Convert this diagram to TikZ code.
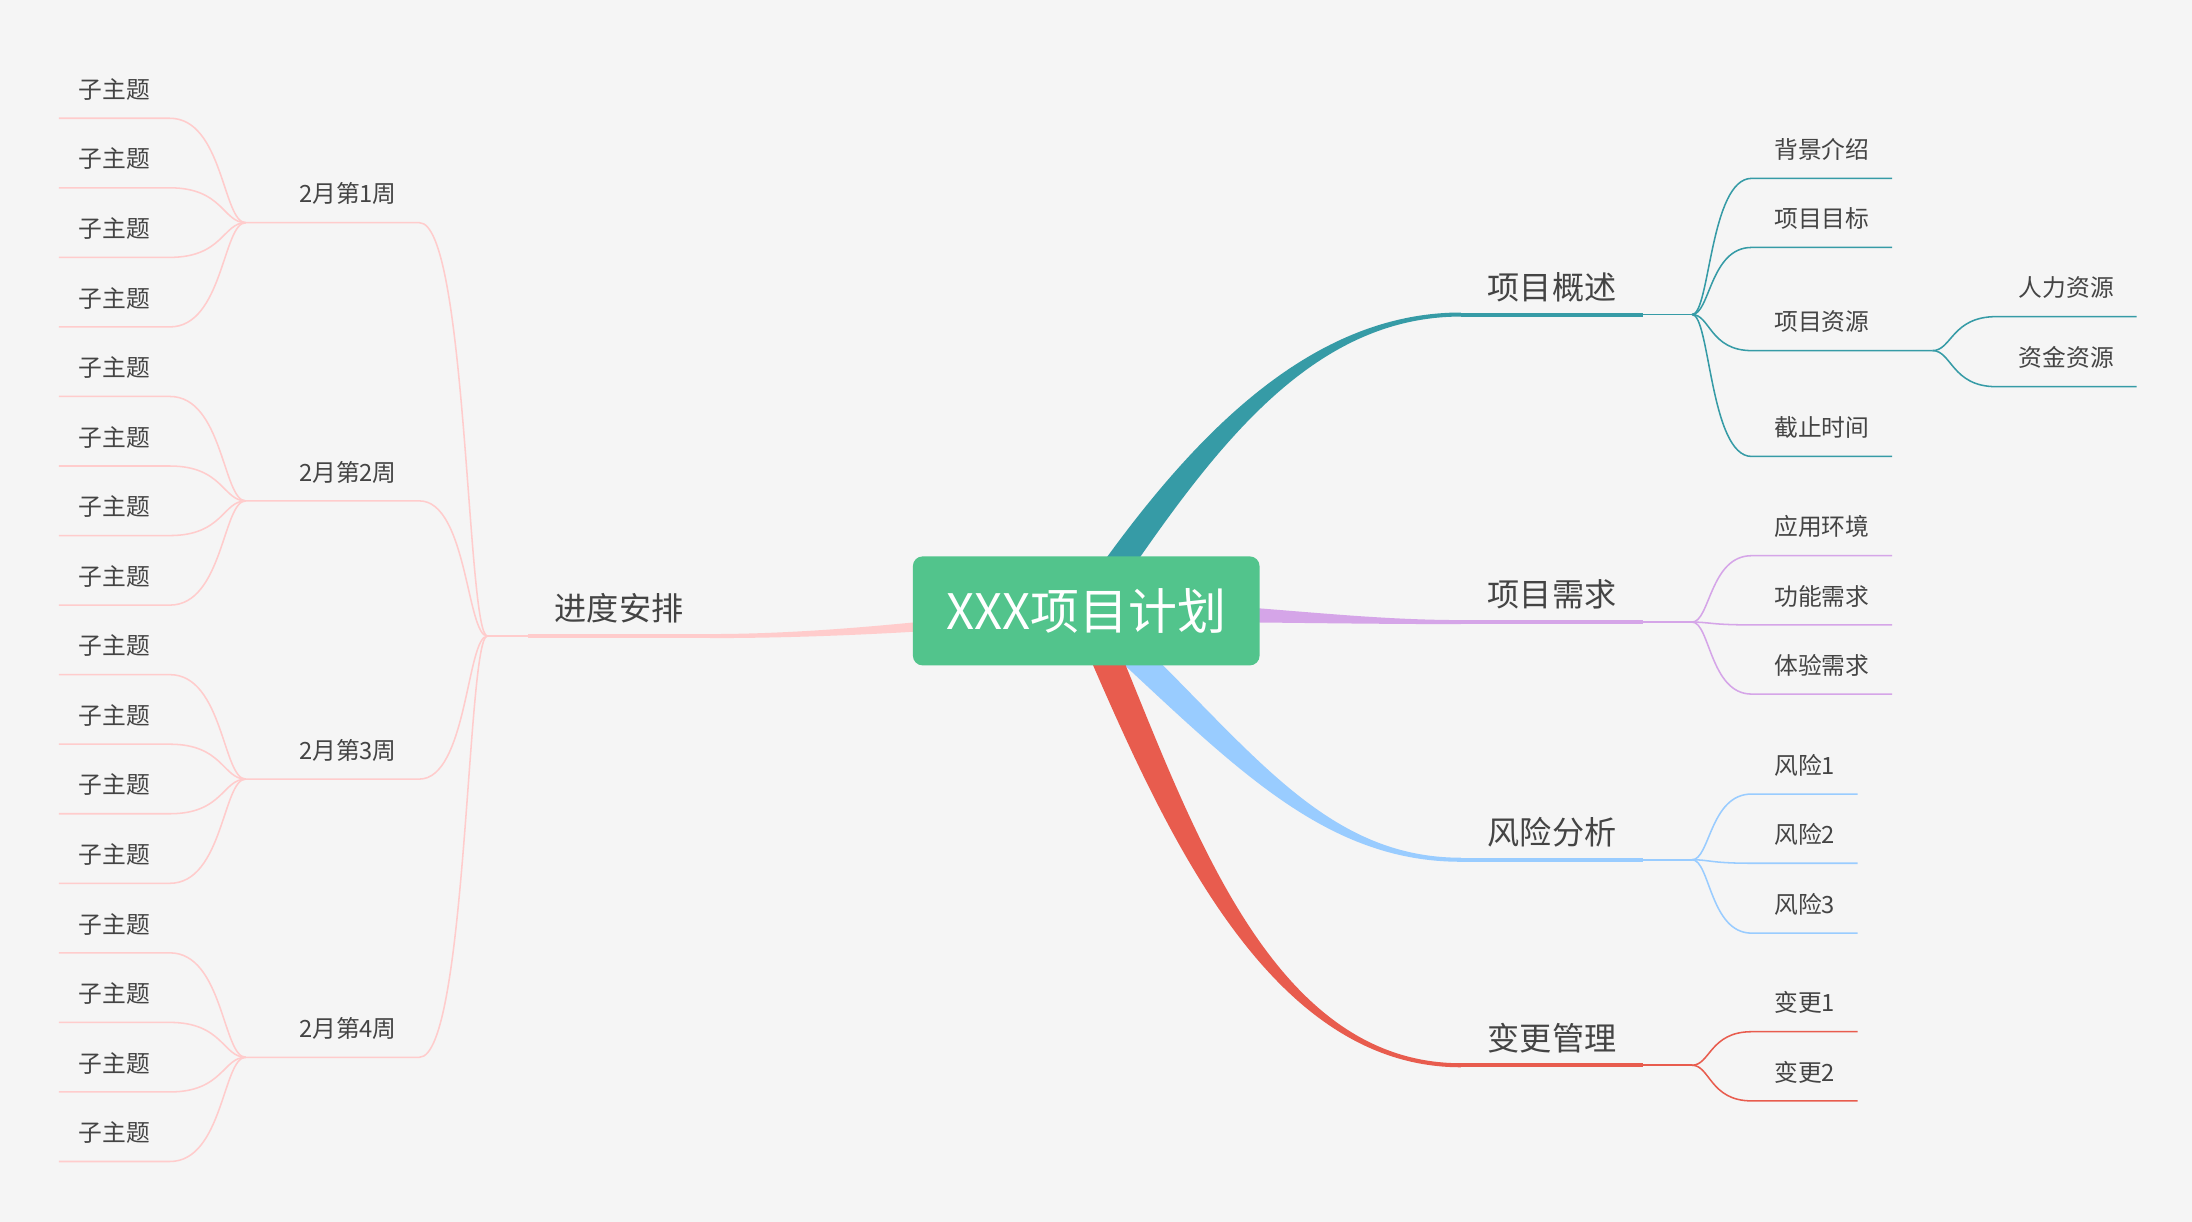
\documentclass[tikz,border=0pt]{standalone}
\usepackage{fontspec}
\setmainfont{Noto Sans CJK SC}
\usepackage{xcolor}
\usepackage{tikz}
\usetikzlibrary{positioning, calc}

\definecolor{paper}{RGB}{245,245,245}
\definecolor{rootgreen}{RGB}{82,196,140}
\definecolor{inkgrey}{RGB}{68,68,68}
\definecolor{tealcol}{RGB}{54,155,166}
\definecolor{lilac}{RGB}{213,165,232}
\definecolor{skyblue}{RGB}{153,204,255}
\definecolor{tomato}{RGB}{232,92,78}
\definecolor{blush}{RGB}{255,204,204}

% tapered limb from the centre: colour, start, control 1, control 2, end, half width at start
\newcommand{\limb}[6]{%
  \fill[#1] ($(#2)!#6!90:(#3)$) .. controls ($(#3)!#6!-90:(#2)$) and ($(#4)!1.45pt!90:(#5)$) .. ($(#5)!1.45pt!-90:(#4)$)
    -- ($(#5)!1.45pt!90:(#4)$) .. controls ($(#4)!1.45pt!-90:(#5)$) and ($(#3)!#6!90:(#2)$) .. ($(#2)!#6!-90:(#3)$) -- cycle;}

\tikzset{
  root/.style={fill=rootgreen, rounded corners=7pt, text=white, font=\fontsize{35}{40}\selectfont,
    minimum width=248pt, minimum height=78pt, text height=30.6pt, text depth=4pt},
  topic/.style={text=inkgrey, font=\fontsize{23}{28}\selectfont, inner xsep=19pt, inner ysep=6pt,
    text height=18.4pt, text depth=4.6pt},
  leaf/.style={text=inkgrey, font=\fontsize{17}{20}\selectfont, inner xsep=16pt, inner ysep=10.6pt,
    text height=13.6pt, text depth=3.4pt},
  sub/.style={leaf, inner xsep=14pt},
  twig/.style={line width=1.1pt},
  stem/.style={line width=2.9pt},
  branch/.style={to path={.. controls ($(\tikztostart)!0.3!(\tikztostart -| \tikztotarget)$)
    and ($(\tikztotarget -| \tikztostart)!0.3!(\tikztotarget)$) .. (\tikztotarget) \tikztonodes}}
}

\begin{document}
\begin{tikzpicture}[x=1pt, y=-1pt]
    \fill[paper] (0,0) rectangle (1568,874);
    \useasboundingbox (0,0) rectangle (1568,874);
    \coordinate (ctr) at (777,437);

    % Main topics
    \node[topic, anchor=south west] (gs) at (1045,225) {项目概述};
    \node[topic, anchor=south west] (xq) at (1045,445) {项目需求};
    \node[topic, anchor=south west] (fx) at (1045,615) {风险分析};
    \node[topic, anchor=south west] (bg) at (1045,762) {变更管理};
    \node[topic, anchor=south east] (jd) at (508,455) {进度安排};
    \coordinate[right=35pt of gs.south east] (gsf);
    \coordinate[right=35pt of xq.south east] (xqf);
    \coordinate[right=35pt of fx.south east] (fxf);
    \coordinate[right=35pt of bg.south east] (bgf);
    \coordinate[left=29pt of jd.south west] (jdf);

    % Tapered limbs
    \limb{tealcol}{ctr}{850,330}{930,225}{gs.south west}{10pt}
    \limb{lilac}{ctr}{880,437}{960,445}{xq.south west}{7.5pt}
    \limb{skyblue}{ctr}{880,530}{940,615}{fx.south west}{10pt}
    \limb{tomato}{ctr}{835,570}{900,762}{bg.south west}{11pt}
    \limb{blush}{ctr}{700,445}{600,455}{jd.south east}{5pt}

    % Underlines of main topics
    \draw[tealcol, stem] (gs.south west) -- (gs.south east);
    \draw[tealcol, twig] (gs.south east) -- (gsf);
    \draw[lilac, stem] (xq.south west) -- (xq.south east);
    \draw[lilac, twig] (xq.south east) -- (xqf);
    \draw[skyblue, stem] (fx.south west) -- (fx.south east);
    \draw[skyblue, twig] (fx.south east) -- (fxf);
    \draw[tomato, stem] (bg.south west) -- (bg.south east);
    \draw[tomato, twig] (bg.south east) -- (bgf);
    \draw[blush, stem] (jd.south west) -- (jd.south east);
    \draw[blush, twig] (jd.south west) -- (jdf);

    \node[root] (root) at (ctr) {XXX项目计划};

    % 项目概述
    \node[leaf, anchor=south west] (bj) at (1253,127.6) {背景介绍};
    \node[leaf, anchor=south west] (mb) at (1253,177) {项目目标};
    \node[leaf, anchor=south west] (zy) at (1253,250.8) {项目资源};
    \node[leaf, anchor=south west] (jz) at (1253,326.5) {截止时间};
    \coordinate[right=29pt of zy.south east] (zyf);
    \node[leaf, anchor=south west] (rl) at (1428,226.5) {人力资源};
    \node[leaf, anchor=south west] (zj) at (1428,276.6) {资金资源};
    \draw[tealcol, twig] (gsf) to[branch] (bj.south west) -- (bj.south east);
    \draw[tealcol, twig] (gsf) to[branch] (mb.south west) -- (mb.south east);
    \draw[tealcol, twig] (gsf) to[branch] (zy.south west) -- (zy.south east) -- (zyf);
    \draw[tealcol, twig] (gsf) to[branch] (jz.south west) -- (jz.south east);
    \draw[tealcol, twig] (zyf) to[branch] (rl.south west) -- (rl.south east);
    \draw[tealcol, twig] (zyf) to[branch] (zj.south west) -- (zj.south east);

    % 项目需求
    \node[leaf, anchor=south west] (yy) at (1253,397.5) {应用环境};
    \node[leaf, anchor=south west] (gn) at (1253,447) {功能需求};
    \node[leaf, anchor=south west] (ty) at (1253,496.5) {体验需求};
    \draw[lilac, twig] (xqf) to[branch] (yy.south west) -- (yy.south east);
    \draw[lilac, twig] (xqf) to[branch] (gn.south west) -- (gn.south east);
    \draw[lilac, twig] (xqf) to[branch] (ty.south west) -- (ty.south east);

    % 风险分析
    \node[leaf, anchor=south west] (fx1) at (1253,568) {风险1};
    \node[leaf, anchor=south west] (fx2) at (1253,617.5) {风险2};
    \node[leaf, anchor=south west] (fx3) at (1253,667.5) {风险3};
    \draw[skyblue, twig] (fxf) to[branch] (fx1.south west) -- (fx1.south east);
    \draw[skyblue, twig] (fxf) to[branch] (fx2.south west) -- (fx2.south east);
    \draw[skyblue, twig] (fxf) to[branch] (fx3.south west) -- (fx3.south east);

    % 变更管理
    \node[leaf, anchor=south west] (bg1) at (1253,738) {变更1};
    \node[leaf, anchor=south west] (bg2) at (1253,787.5) {变更2};
    \draw[tomato, twig] (bgf) to[branch] (bg1.south west) -- (bg1.south east);
    \draw[tomato, twig] (bgf) to[branch] (bg2.south west) -- (bg2.south east);

    % 进度安排: weeks
    \node[leaf, anchor=south east] (w1) at (300,159.3) {2月第1周};
    \node[leaf, anchor=south east] (w2) at (300,358.3) {2月第2周};
    \node[leaf, anchor=south east] (w3) at (300,557.3) {2月第3周};
    \node[leaf, anchor=south east] (w4) at (300,756.3) {2月第4周};
    \coordinate[left=22pt of w1.south west] (w1f);
    \coordinate[left=22pt of w2.south west] (w2f);
    \coordinate[left=22pt of w3.south west] (w3f);
    \coordinate[left=22pt of w4.south west] (w4f);
    \draw[blush, twig] (jdf) to[branch] (w1.south east) -- (w1f);
    \draw[blush, twig] (jdf) to[branch] (w2.south east) -- (w2f);
    \draw[blush, twig] (jdf) to[branch] (w3.south east) -- (w3f);
    \draw[blush, twig] (jdf) to[branch] (w4.south east) -- (w4f);

    % 子主题 under each week
    \node[sub, anchor=south east] (s1) at (121.5,84.6) {子主题};
    \node[sub, anchor=south east] (s2) at (121.5,134.35) {子主题};
    \node[sub, anchor=south east] (s3) at (121.5,184.1) {子主题};
    \node[sub, anchor=south east] (s4) at (121.5,233.85) {子主题};
    \node[sub, anchor=south east] (s5) at (121.5,283.6) {子主题};
    \node[sub, anchor=south east] (s6) at (121.5,333.35) {子主题};
    \node[sub, anchor=south east] (s7) at (121.5,383.1) {子主题};
    \node[sub, anchor=south east] (s8) at (121.5,432.85) {子主题};
    \node[sub, anchor=south east] (s9) at (121.5,482.6) {子主题};
    \node[sub, anchor=south east] (s10) at (121.5,532.35) {子主题};
    \node[sub, anchor=south east] (s11) at (121.5,582.1) {子主题};
    \node[sub, anchor=south east] (s12) at (121.5,631.85) {子主题};
    \node[sub, anchor=south east] (s13) at (121.5,681.6) {子主题};
    \node[sub, anchor=south east] (s14) at (121.5,731.35) {子主题};
    \node[sub, anchor=south east] (s15) at (121.5,781.1) {子主题};
    \node[sub, anchor=south east] (s16) at (121.5,830.85) {子主题};
    \draw[blush, twig] (w1f) to[branch] (s1.south east) -- (s1.south west);
    \draw[blush, twig] (w1f) to[branch] (s2.south east) -- (s2.south west);
    \draw[blush, twig] (w1f) to[branch] (s3.south east) -- (s3.south west);
    \draw[blush, twig] (w1f) to[branch] (s4.south east) -- (s4.south west);
    \draw[blush, twig] (w2f) to[branch] (s5.south east) -- (s5.south west);
    \draw[blush, twig] (w2f) to[branch] (s6.south east) -- (s6.south west);
    \draw[blush, twig] (w2f) to[branch] (s7.south east) -- (s7.south west);
    \draw[blush, twig] (w2f) to[branch] (s8.south east) -- (s8.south west);
    \draw[blush, twig] (w3f) to[branch] (s9.south east) -- (s9.south west);
    \draw[blush, twig] (w3f) to[branch] (s10.south east) -- (s10.south west);
    \draw[blush, twig] (w3f) to[branch] (s11.south east) -- (s11.south west);
    \draw[blush, twig] (w3f) to[branch] (s12.south east) -- (s12.south west);
    \draw[blush, twig] (w4f) to[branch] (s13.south east) -- (s13.south west);
    \draw[blush, twig] (w4f) to[branch] (s14.south east) -- (s14.south west);
    \draw[blush, twig] (w4f) to[branch] (s15.south east) -- (s15.south west);
    \draw[blush, twig] (w4f) to[branch] (s16.south east) -- (s16.south west);
\end{tikzpicture}
\end{document}
